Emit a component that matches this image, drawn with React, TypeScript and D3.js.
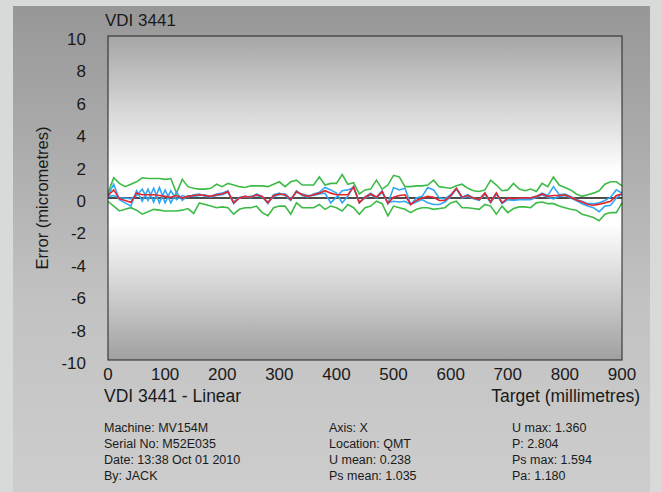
import { useEffect, useRef } from 'react';
import { line, scaleLinear, select } from 'd3';

const targets = [
  0, 10, 20, 30, 40, 50, 60, 70, 80, 90, 100, 110, 120, 130, 140, 150, 160,
  170, 180, 190, 200, 210, 220, 230, 240, 250, 260, 270, 280, 290, 300, 310,
  320, 330, 340, 350, 360, 370, 380, 390, 400, 410, 420, 430, 440, 450, 460,
  470, 480, 490, 500, 510, 520, 530, 540, 550, 560, 570, 580, 590, 600, 610,
  620, 630, 640, 650, 660, 670, 680, 690, 700, 710, 720, 730, 740, 750, 760,
  770, 780, 790, 800, 810, 820, 830, 840, 850, 860, 870, 880, 890, 900,
];

// mean deviation
const meanDev = [
  0.15, 0.5, -0.05, -0.15, -0.27, 0.3, 0.2, 0.2, 0.2, 0.15, 0.1, 0.05, 0.15,
  0.0, 0.1, 0.15, 0.2, 0.15, 0.1, 0.2, 0.25, 0.4, -0.3, 0.0, 0.1, 0.05, 0.2,
  0.1, -0.3, 0.15, 0.25, 0.2, -0.1, 0.4, 0.2, 0.1, 0.2, 0.3, 0.45, 0.3, 0.2,
  0.2, 0.2, 0.7, -0.3, 0.05, 0.25, 0.05, 0.4, -0.33, 0.05, 0.15, 0.2, -0.4,
  -0.15, 0.0, 0.1, 0.05, -0.15, -0.15, 0.15, 0.6, 0.05, 0.15, 0.0, -0.1, 0.3,
  -0.25, 0.3, -0.3, 0.0, -0.05, 0.0, 0.0, 0.0, 0.1, 0.25, 0.1, 0.15, 0.15, 0.2,
  0.05, -0.12, -0.25, -0.4, -0.45, -0.38, -0.3, -0.2, 0.15, 0.25,
];

// forward run
const forwardDev = [
  0.15, 0.85, -0.1, -0.3, -0.5, 0.45, -0.2, 0.55, -0.25, 0.65, -0.3, 0.45,
  -0.1, 0.15, 0.05, 0.2, 0.25, 0.1, 0.1, 0.25, 0.3, 0.45, -0.35, 0.0, 0.1, 0.0,
  0.25, 0.1, -0.35, 0.2, 0.3, 0.15, -0.15, 0.45, 0.15, 0.05, 0.25, 0.35, 0.65,
  0.5, 0.3, -0.3, 0.1, 0.7, -0.3, 0.05, 0.3, 0.05, 0.45, -0.35, 0.65, 0.5, 0.6,
  -0.4, 0.0, 0.1, 0.65, 0.5, 0.0, -0.05, 0.2, 0.6, 0.05, 0.2, 0.0, -0.1, 0.3,
  -0.25, 0.3, -0.3, -0.05, -0.1, -0.05, -0.05, 0.0, 0.1, 0.3, 0.15, 0.7, 0.2,
  0.25, 0.1, -0.1, -0.2, -0.35, -0.35, -0.3, -0.15, 0.05, 0.5, 0.3,
];

// reverse run
const reverseDev = [
  0.1, 0.15, 0.0, 0.0, -0.05, 0.15, 0.55, -0.15, 0.6, -0.3, 0.5, -0.3, 0.35,
  -0.15, 0.15, 0.1, 0.15, 0.2, 0.05, 0.15, 0.2, 0.35, -0.25, 0.05, 0.05, 0.1,
  0.15, 0.05, -0.25, 0.1, 0.2, 0.25, -0.05, 0.35, 0.25, 0.15, 0.15, 0.25, 0.3,
  -0.3, 0.05, 0.45, 0.5, 0.65, -0.25, 0.0, 0.2, 0.0, 0.35, -0.3, -0.2, -0.25,
  -0.2, -0.4, -0.25, -0.1, -0.3, -0.4, -0.4, -0.25, 0.1, 0.55, 0.0, 0.1, -0.05,
  -0.15, 0.25, -0.3, 0.25, -0.35, -0.1, -0.15, -0.1, -0.1, -0.1, 0.05, 0.2,
  0.05, -0.05, 0.1, 0.15, 0.0, -0.15, -0.35, -0.5, -0.6, -0.85, -0.5, -0.45,
  0.0, 0.25,
];

const upperBand = [
  0.3, 1.25, 0.9, 0.7, 0.85, 1.0, 1.25, 1.2, 1.2, 1.2, 1.15, 1.2, 0.3, 1.15,
  0.7, 0.6, 0.55, 0.55, 0.6, 0.85, 0.7, 0.9, 0.8, 0.7, 0.65, 0.75, 0.75, 0.75,
  0.7, 0.85, 1.0, 0.7, 1.0, 1.1, 0.8, 0.8, 0.8, 1.3, 0.8, 0.9, 0.9, 1.45, 0.85,
  0.95, 0.25, 0.5, 0.55, 1.1, 0.55, 0.8, 1.4, 1.3, 0.7, 0.7, 0.75, 0.75, 0.8,
  1.1, 0.7, 0.65, 0.6, 0.75, 0.85, 0.6, 0.45, 0.4, 0.5, 1.1, 0.8, 0.45, 0.5,
  0.9, 0.55, 0.45, 0.55, 0.4, 0.9, 0.7, 1.3, 0.8, 0.65, 0.5, 0.25, 0.1, 0.2,
  0.3, 0.45, 0.85, 1.0, 1.0, 0.75,
];

const lowerBand = [
  -0.2, -0.5, -0.8, -0.7, -0.6, -0.75, -1.0, -0.85, -0.7, -0.75, -0.8, -0.8,
  -0.8, -0.75, -0.65, -0.95, -0.3, -0.4, -0.5, -0.6, -0.55, -0.6, -1.0, -0.7,
  -0.6, -0.6, -0.5, -0.9, -1.1, -0.6, -0.5, -0.5, -1.0, -0.3, -0.6, -0.6, -0.6,
  -0.4, -0.7, -0.5, -0.6, -0.8, -0.4, -0.6, -1.0, -0.6, -0.5, -0.2, -0.35, -1.1,
  -0.5, -0.6, -0.7, -0.9, -0.7, -0.6, -0.6, -0.7, -0.65, -0.6, -0.3, -0.2, -0.6,
  -0.6, -0.65, -0.7, -0.4, -0.5, -1.0, -0.5, -0.9, -0.65, -0.55, -0.55, -0.6,
  -0.3, -0.25, -0.35, -0.35, -0.5, -0.6, -0.7, -0.75, -1.0, -1.1, -1.2, -1.4,
  -1.0, -0.9, -0.9, -0.3,
];

const yTicks = [10, 8, 6, 4, 2, 0, -2, -4, -6, -8, -10];
const xTicks = [0, 100, 200, 300, 400, 500, 600, 700, 800, 900];

const infoCols = [
  ['Machine: MV154M', 'Serial No: M52E035', 'Date: 13:38 Oct 01 2010', 'By: JACK'],
  ['Axis: X', 'Location: QMT', 'U mean: 0.238', 'Ps mean: 1.035'],
  ['U max: 1.360', 'P: 2.804', 'Ps max: 1.594', 'Pa: 1.180'],
];

const W = 662;
const H = 492;
const plot = { left: 108, right: 622, top: 36, bottom: 360 };
const font = 'Liberation Sans, Arial, Helvetica, sans-serif';

const App = () => {
  const svgRef = useRef<SVGSVGElement>(null);

  useEffect(() => {
    const svg = select(svgRef.current);
    svg.selectAll('*').remove();

    const x = scaleLinear().domain([0, 900]).range([plot.left, plot.right]);
    const y = scaleLinear().domain([-10, 10]).range([plot.bottom, plot.top]);

    const defs = svg.append('defs');
    const panelGrad = defs
      .append('linearGradient')
      .attr('id', 'panelGrad')
      .attr('x1', 0)
      .attr('y1', 0)
      .attr('x2', 0)
      .attr('y2', 1);
    panelGrad.append('stop').attr('offset', '0%').attr('stop-color', '#979797');
    panelGrad.append('stop').attr('offset', '60%').attr('stop-color', '#c2c2c2');
    panelGrad.append('stop').attr('offset', '100%').attr('stop-color', '#cdcdcd');

    const plotGrad = defs
      .append('linearGradient')
      .attr('id', 'plotGrad')
      .attr('x1', 0)
      .attr('y1', 0)
      .attr('x2', 0)
      .attr('y2', 1);
    plotGrad.append('stop').attr('offset', '0%').attr('stop-color', '#a6a6a6');
    plotGrad.append('stop').attr('offset', '42%').attr('stop-color', '#ffffff');
    plotGrad.append('stop').attr('offset', '58%').attr('stop-color', '#ffffff');
    plotGrad.append('stop').attr('offset', '100%').attr('stop-color', '#a0a0a0');

    svg.append('rect').attr('width', W).attr('height', H).attr('fill', '#d8d9d9');
    svg
      .append('rect')
      .attr('x', 13)
      .attr('y', 6)
      .attr('width', 637)
      .attr('height', H - 6)
      .attr('fill', 'url(#panelGrad)');

    svg
      .append('rect')
      .attr('x', plot.left)
      .attr('y', plot.top)
      .attr('width', plot.right - plot.left)
      .attr('height', plot.bottom - plot.top)
      .attr('fill', 'url(#plotGrad)');

    // zero line
    svg
      .append('line')
      .attr('x1', plot.left)
      .attr('x2', plot.right)
      .attr('y1', y(0))
      .attr('y2', y(0))
      .attr('stroke', '#111')
      .attr('stroke-width', 1.5);

    const path = line<number>()
      .x((d, i) => x(targets[i]))
      .y((d) => y(d));

    const series = [
      { data: upperBand, color: '#3dbb47' },
      { data: lowerBand, color: '#3dbb47' },
      { data: forwardDev, color: '#31a8f4' },
      { data: reverseDev, color: '#31a8f4' },
      { data: meanDev, color: '#e3262e' },
    ];

    svg
      .append('g')
      .selectAll('path')
      .data(series)
      .join('path')
      .attr('d', (d) => path(d.data))
      .attr('fill', 'none')
      .attr('stroke', (d) => d.color)
      .attr('stroke-width', 1.6)
      .attr('stroke-linejoin', 'miter');

    svg
      .append('rect')
      .attr('x', plot.left)
      .attr('y', plot.top)
      .attr('width', plot.right - plot.left)
      .attr('height', plot.bottom - plot.top)
      .attr('fill', 'none')
      .attr('stroke', '#222')
      .attr('stroke-width', 1);

    const text = svg
      .append('g')
      .attr('font-family', font)
      .attr('fill', '#1a1a1a');

    text
      .selectAll('text.ytick')
      .data(yTicks)
      .join('text')
      .attr('class', 'ytick')
      .attr('x', 86)
      .attr('y', (d) => y(d) + 3)
      .attr('dy', '0.35em')
      .attr('text-anchor', 'end')
      .attr('font-size', 17)
      .text((d) => d);

    text
      .selectAll('text.xtick')
      .data(xTicks)
      .join('text')
      .attr('class', 'xtick')
      .attr('x', (d) => x(d))
      .attr('y', 380)
      .attr('text-anchor', 'middle')
      .attr('font-size', 17)
      .text((d) => d);

    text
      .append('text')
      .attr('x', 105)
      .attr('y', 26)
      .attr('font-size', 17)
      .text('VDI 3441');

    text
      .append('text')
      .attr('transform', `translate(48, ${y(0)}) rotate(-90)`)
      .attr('text-anchor', 'middle')
      .attr('font-size', 16.5)
      .text('Error (micrometres)');

    text
      .append('text')
      .attr('x', 104)
      .attr('y', 402)
      .attr('font-size', 17.5)
      .text('VDI 3441 - Linear');

    text
      .append('text')
      .attr('x', 640)
      .attr('y', 402)
      .attr('text-anchor', 'end')
      .attr('font-size', 17.5)
      .text('Target (millimetres)');

    const colX = [104, 329, 512];
    infoCols.forEach((col, ci) => {
      text
        .append('g')
        .selectAll('text')
        .data(col)
        .join('text')
        .attr('x', colX[ci])
        .attr('y', (d, i) => 432 + i * 16)
        .attr('font-size', 12.5)
        .text((d) => d);
    });
  }, []);

  return (
    <div style={{ position: 'fixed', left: 0, top: 0 }}>
      <svg ref={svgRef} width={W} height={H} style={{ display: 'block' }} />
    </div>
  );
};

export default App;
